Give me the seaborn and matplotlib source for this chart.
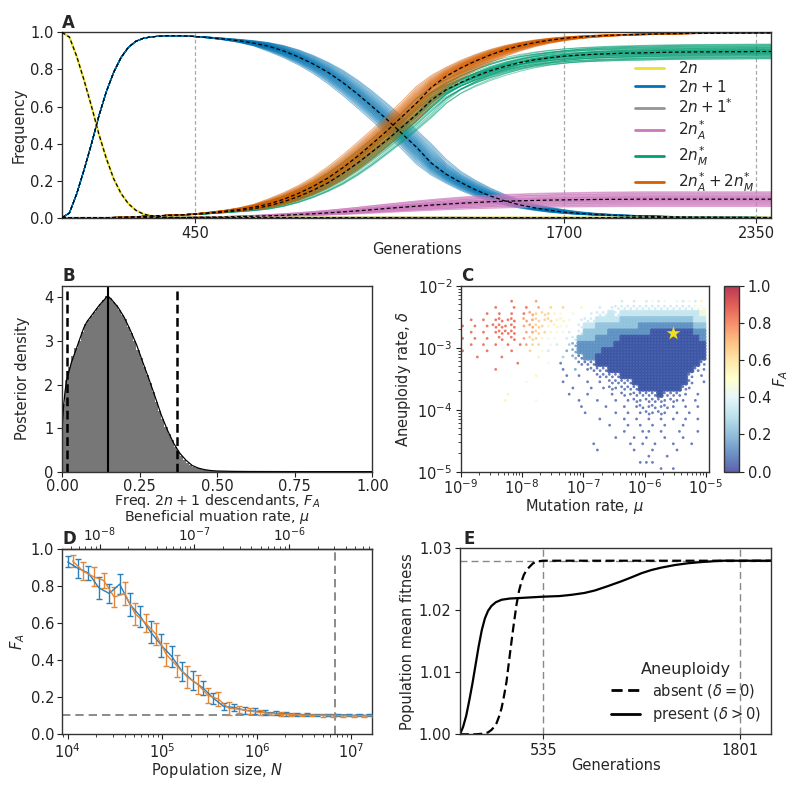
import numpy as np
import pandas as pd
import matplotlib
matplotlib.use("Agg")
import matplotlib.pyplot as plt
import seaborn as sns
from matplotlib.lines import Line2D
from matplotlib.colors import ListedColormap, Normalize
from matplotlib.cm import ScalarMappable

# ---------------- Panel A data ----------------
gens = [0, 25, 50, 75, 100, 125, 150, 175, 200, 225, 250, 275, 300,
        350, 400, 450, 500, 550, 600, 650, 700, 750, 800, 850, 900, 950, 1000,
        1050, 1100, 1150, 1200, 1250, 1300, 1350, 1400, 1450, 1500, 1550, 1600,
        1650, 1700, 1750, 1800, 1850, 1900, 1950, 2000, 2050, 2100, 2150, 2200,
        2250, 2300, 2350, 2400]
freq_2n = [1.0, 0.975, 0.87, 0.74, 0.6, 0.45, 0.32, 0.21, 0.13, 0.075, 0.04, 0.02, 0.01,
           0.003, 0.001, 0, 0, 0, 0, 0, 0, 0, 0, 0, 0, 0, 0, 0, 0, 0, 0, 0, 0, 0, 0,
           0, 0, 0, 0, 0, 0, 0, 0, 0, 0, 0, 0, 0, 0, 0, 0, 0, 0, 0, 0]
freq_2n1 = [0.0, 0.025, 0.13, 0.26, 0.4, 0.55, 0.68, 0.785, 0.865, 0.92, 0.952, 0.968, 0.976,
            0.982, 0.982, 0.978, 0.972, 0.964, 0.955, 0.942, 0.925, 0.9, 0.868, 0.83, 0.785,
            0.73, 0.668, 0.6, 0.53, 0.455, 0.38, 0.295, 0.235, 0.19, 0.15, 0.117, 0.09,
            0.069, 0.053, 0.04, 0.03, 0.023, 0.018, 0.014, 0.011, 0.009, 0.007, 0.005,
            0.004, 0.003, 0.003, 0.002, 0.002, 0.001, 0.001]
freq_2n1s = [0, 0, 0, 0, 0, 0, 0, 0.001, 0.001, 0.001, 0.002, 0.002, 0.002, 0.002, 0.002,
             0.002, 0.002, 0.002, 0.002, 0.002, 0.002, 0.002, 0.001, 0.001, 0.001, 0.001,
             0.001, 0.001, 0.001, 0.001, 0.001, 0.001, 0.001, 0.001, 0, 0, 0, 0, 0, 0, 0,
             0, 0, 0, 0, 0, 0, 0, 0, 0, 0, 0, 0, 0, 0]
freq_2nA = [0, 0, 0, 0, 0, 0, 0, 0, 0, 0, 0, 0, 0, 0, 0, 0.002, 0.003, 0.004, 0.006, 0.008,
            0.01, 0.013, 0.017, 0.021, 0.026, 0.031, 0.037, 0.043, 0.05, 0.056, 0.062,
            0.068, 0.073, 0.078, 0.082, 0.086, 0.089, 0.091, 0.093, 0.095, 0.096, 0.097,
            0.098, 0.099, 0.099, 0.1, 0.1, 0.1, 0.1, 0.1, 0.1, 0.1, 0.1, 0.1, 0.1]
freq_2nM = [0, 0, 0, 0, 0, 0, 0, 0.001, 0.002, 0.003, 0.005, 0.007, 0.009, 0.012, 0.015,
            0.018, 0.024, 0.031, 0.038, 0.049, 0.064, 0.086, 0.114, 0.148, 0.188, 0.238,
            0.294, 0.356, 0.419, 0.488, 0.557, 0.635, 0.69, 0.73, 0.764, 0.793, 0.817,
            0.837, 0.852, 0.863, 0.872, 0.878, 0.882, 0.885, 0.888, 0.889, 0.891, 0.893,
            0.894, 0.895, 0.895, 0.896, 0.896, 0.897, 0.897]
freq_2nAM = [0, 0, 0, 0, 0, 0, 0, 0.001, 0.002, 0.003, 0.005, 0.007, 0.009, 0.012, 0.015,
             0.02, 0.027, 0.035, 0.044, 0.057, 0.074, 0.099, 0.131, 0.169, 0.214, 0.269,
             0.331, 0.399, 0.469, 0.544, 0.619, 0.703, 0.763, 0.808, 0.846, 0.879, 0.906,
             0.928, 0.945, 0.958, 0.968, 0.975, 0.98, 0.984, 0.987, 0.989, 0.991, 0.993,
             0.994, 0.995, 0.995, 0.996, 0.996, 0.997, 0.997]
rep_shift = [-55, -48, -43, -39, -35, -32, -29, -26, -24, -21, -19, -17, -14, -12, -10, -8,
             -6, -4, -2, 0, 2, 3, 5, 7, 9, 12, 14, 16, 19, 21, 24, 27, 30, 33, 37, 41, 45,
             50, 56, 62]
rep_pink_scale = [1.25, 0.8, 1.1, 0.65, 1.35, 0.9, 1.05, 0.75, 1.2, 0.95, 1.4, 0.7, 1.0, 1.15,
                  0.85, 1.3, 0.6, 1.1, 0.9, 1.0, 1.22, 0.78, 1.05, 0.92, 1.38, 0.68, 1.12,
                  0.88, 1.02, 1.28, 0.72, 0.97, 1.18, 0.83, 1.08, 0.62, 1.32, 0.93, 1.15, 0.8]
a_ticks = [450, 1700, 2350]
class_labels = ["$2n$", "$2n+1$", "$2n+1^{*}$", "$2n_A^{*}$", "$2n_M^{*}$", "$2n_A^{*}+2n_M^{*}$"]
class_colors = ["#ece133", "#0173b2", "#949494", "#cc78bc", "#029e73", "#d55e00"]

# ---------------- Panel B data ----------------
hist_heights = [1.55, 2.1, 2.4, 2.65, 2.85, 3.0, 3.2, 3.38, 3.48, 3.58, 3.66, 3.75, 3.85, 3.94,
                4.03, 3.98, 3.9, 3.82, 3.72, 3.6, 3.5, 3.33, 3.18, 3.0, 2.8, 2.6, 2.4, 2.22,
                2.04, 1.82, 1.6, 1.4, 1.2, 1.03, 0.87, 0.72, 0.57, 0.46, 0.36, 0.27, 0.21,
                0.15, 0.11, 0.08, 0.06, 0.04, 0.03, 0.02, 0.015, 0.01, 0.008, 0.007, 0.006,
                0.005, 0.005, 0.004, 0.004, 0.003, 0.003, 0.003] + [0.002] * 40
kde_x = [0, 0.005, 0.01, 0.015, 0.03, 0.05, 0.07, 0.08, 0.1, 0.12, 0.14, 0.147, 0.16, 0.18,
         0.2, 0.22, 0.24, 0.26, 0.28, 0.3, 0.32, 0.34, 0.36, 0.38, 0.4, 0.42, 0.44, 0.46,
         0.48, 0.5, 0.55, 0.6, 0.7, 0.8, 1.0]
kde_y = [0.95, 1.5, 1.85, 2.1, 2.5, 2.9, 3.3, 3.44, 3.63, 3.82, 3.98, 4.04, 3.95, 3.78, 3.55,
         3.25, 2.92, 2.52, 2.13, 1.72, 1.3, 0.95, 0.65, 0.42, 0.26, 0.14, 0.08, 0.045,
         0.025, 0.015, 0.007, 0.004, 0.002, 0.001, 0.001]
fa_mode = 0.147
fa_ci = [0.015, 0.37]

# ---------------- Panel C data ----------------
# ASCII density map: 40 columns (log10 mu -9..-5, step 0.1), 30 rows (log10 delta -2..-5)
# digit = dense cell, upper case = medium, lower case = sparse; letter/digit -> F_A level
fa_map = [
    ".........." ".........." ".........." "..........",
    ".........." ".........." ".........." "..........",
    "........i." "..h......." "......d.d." "dede.ededf",
    ".....i..i." "i.h.g.g..f" "..d.dDDDDD" "DDDDDDDDEE",
    "....i.i.i." "iHgGgfe.e." ".dDD3D3333" "3333333334",
    ".i.i.iIiI." "HhGgGfFe.d" "DD33332222" "2222222233",
    "i.i.iIIiI." "hHGgfFee.D" "3322222221" "1111111122",
    ".i.i.iIII." "hhGgfeed.D" "2222111111" "1000000011",
    "i.i.i.I.I." "hGgfee.dD2" "2211110000" "0000000001",
    ".i.i.i.i.i" "hgg.ed.cB1" "1111100000" "0000000000",
    "i...i...i." ".g.ed..bB1" "1110000000" "0000000000",
    "..i...i..." "..f...c.BA" "1100000000" "0000000000",
    ".........i" "....e.a..A" "AA00000000" "000000000A",
    ".....i...." "......a.b." "aAAA000000" "00000000Aa",
    ".........." "..f....a.a" "..AAAA0000" "0000000A.a",
    ".........." "e.....a..." "a.a.AAAA00" "0000000A.a",
    ".........." "........a." ".a.aAaAAA0" "000000Aa..",
    ".......f.." ".......a.." "a...a.AaAA" "AA0AAAa.a.",
    ".......f.." "..e......a" "..a..a.aAa" "AAAaAaa.a.",
    ".........." ".........a" "...a..a.aA" "aAaAa.a.a.",
    ".........." ".........." "a....a.a.a" "AaAa.a.a..",
    ".........." ".........." "..a...a.a." "a.a.a.a.a.",
    ".........." ".........." "....a..a.a" ".a.a..a...",
    ".........." ".........." "......a..a" "a.a..a..a.",
    ".........." ".........." ".....a..a." "a..a..a...",
    ".........." ".........." ".a.....a.a" ".a..a..a..",
    ".........." ".........." "..a.....a." ".a...a....",
    ".........." ".........." ".........." "a..a......",
    ".........." ".........." ".........a" "aa........",
    ".........." ".........." ".........." "..a.a.....",
]
star_mu = [2.9e-6]
star_delta = [1.7e-3]

# ---------------- Panel D data ----------------
pop_N = [1.0e4, 1.29e4, 1.66e4, 2.14e4, 2.75e4, 3.55e4, 4.57e4, 5.89e4, 7.59e4, 9.77e4,
         1.26e5, 1.62e5, 2.09e5, 2.69e5, 3.47e5, 4.47e5, 5.75e5, 7.41e5, 9.55e5, 1.23e6,
         1.58e6, 2.04e6, 2.63e6, 3.39e6, 4.37e6, 5.62e6, 7.24e6, 9.33e6, 1.20e7, 1.55e7]
fa_N = [0.93, 0.895, 0.87, 0.79, 0.76, 0.81, 0.70, 0.635, 0.55, 0.48, 0.42, 0.34, 0.29, 0.25,
        0.195, 0.15, 0.145, 0.13, 0.125, 0.118, 0.113, 0.11, 0.107, 0.105, 0.104, 0.103,
        0.103, 0.102, 0.102, 0.102]
err_N = [0.03, 0.05, 0.04, 0.06, 0.05, 0.055, 0.06, 0.055, 0.06, 0.063, 0.055, 0.05, 0.05,
         0.04, 0.03, 0.02, 0.018, 0.018, 0.015, 0.012, 0.01, 0.01, 0.008, 0.008, 0.007,
         0.007, 0.006, 0.006, 0.006, 0.006]
mut_mu = [5.16e-9, 6.65e-9, 8.57e-9, 1.10e-8, 1.42e-8, 1.83e-8, 2.36e-8, 3.04e-8, 3.92e-8,
          5.05e-8, 6.5e-8, 8.38e-8, 1.08e-7, 1.39e-7, 1.79e-7, 2.31e-7, 2.98e-7, 3.84e-7,
          4.94e-7, 6.37e-7, 8.21e-7, 1.06e-6, 1.36e-6, 1.76e-6, 2.26e-6, 2.92e-6, 3.76e-6,
          4.84e-6, 6.24e-6, 8.04e-6]
fa_mu = [0.935, 0.88, 0.85, 0.83, 0.74, 0.76, 0.65, 0.60, 0.54, 0.43, 0.37, 0.31, 0.27, 0.21,
         0.19, 0.14, 0.135, 0.125, 0.118, 0.112, 0.108, 0.106, 0.104, 0.103, 0.102, 0.101,
         0.1, 0.1, 0.1, 0.1]
err_mu = [0.035, 0.05, 0.05, 0.04, 0.055, 0.06, 0.06, 0.05, 0.06, 0.06, 0.06, 0.06, 0.05,
          0.04, 0.04, 0.035, 0.02, 0.015, 0.012, 0.01, 0.01, 0.008, 0.008, 0.007, 0.007,
          0.006, 0.006, 0.006, 0.006, 0.006]
mu_ticks = [1e-8, 1e-7, 1e-6]
N_PER_MU = 2.19e12
d_hline = 0.105
d_vline = 6.64e6

# ---------------- Panel E data ----------------
e_gen_present = [0, 20, 40, 60, 80, 100, 120, 140, 160, 180, 202, 230, 267, 320, 395, 535,
                 640, 717, 800, 867, 950, 1039, 1100, 1168, 1230, 1296, 1380, 1468, 1560,
                 1683, 1850, 2000]
e_fit_present = [1.0, 1.0012, 1.003, 1.0055, 1.0082, 1.0112, 1.0142, 1.0168, 1.0187, 1.0199,
                 1.0207, 1.0213, 1.0217, 1.0219, 1.022, 1.0222, 1.0223, 1.0225, 1.0228,
                 1.0232, 1.0239, 1.0247, 1.0253, 1.026, 1.0265, 1.0269, 1.0273, 1.0276,
                 1.0278, 1.028, 1.028, 1.028]
e_gen_absent = [0, 100, 150, 180, 202, 220, 235, 250, 267, 283, 299, 320, 342, 363, 380, 395,
                410, 428, 450, 470, 500, 535, 1000, 2000]
e_fit_absent = [1.0, 1.0, 1.0001, 1.0003, 1.0007, 1.0012, 1.0018, 1.0028, 1.0042, 1.0062,
                1.0085, 1.0128, 1.0171, 1.0209, 1.0232, 1.0246, 1.0257, 1.0265, 1.0271,
                1.0276, 1.0279, 1.028, 1.028, 1.028]
e_ticks = [535, 1801]
e_hline = 1.028

# ---------------- Style ----------------
sns.set_style("ticks")
plt.rcParams["font.family"] = ["DejaVu Sans"]
plt.rcParams.update({
    "font.size": 10, "axes.labelsize": 10.5, "xtick.labelsize": 10.5, "ytick.labelsize": 10.5,
    "axes.edgecolor": "#333333", "axes.linewidth": 1.0, "mathtext.fontset": "dejavusans",
    "xtick.major.size": 3.5, "ytick.major.size": 3.5, "xtick.minor.size": 2,
    "ytick.minor.size": 2, "xtick.color": "#222222", "ytick.color": "#222222",
    "xtick.major.pad": 2.5, "ytick.major.pad": 2.5, "axes.labelpad": 2.5,
})

fig = plt.figure(figsize=(8, 7.91), dpi=100)
axA = fig.add_axes([0.0775, 0.7248, 0.8863, 0.2342])
axB = fig.add_axes([0.0775, 0.4037, 0.3879, 0.2351])
axC = fig.add_axes([0.576, 0.4037, 0.310, 0.2351])
cax = fig.add_axes([0.9054, 0.4037, 0.0188, 0.2351])
axD = fig.add_axes([0.078, 0.0717, 0.387, 0.2343])
axE = fig.add_axes([0.575, 0.0717, 0.389, 0.2351])


def panel_label(ax, s, dx=0.0):
    ax.text(dx, 1.004, s, transform=ax.transAxes, fontsize=12, fontweight="bold",
            va="bottom", ha="left")


# ---------------- Panel A ----------------
t = np.array(gens, float)
ramp = np.clip((t - 400.0) / 300.0, 0, 1)
recs = []
for r, (d, k) in enumerate(zip(rep_shift, rep_pink_scale)):
    ts = t - d * ramp
    b = np.interp(ts, t, freq_2n1)
    o = np.interp(ts, t, freq_2nAM)
    p = np.interp(ts, t, freq_2nA) * k
    g = o - p
    for cls, vals in (("2nA", p), ("2nM", g), ("2nAM", o), ("2n1", b)):
        recs.append(pd.DataFrame({"gen": t, "freq": vals, "cls": cls, "rep": r}))
dfA = pd.concat(recs, ignore_index=True)
palA = {"2n1": class_colors[1], "2nA": class_colors[3], "2nM": class_colors[4],
        "2nAM": class_colors[5]}
for x in a_ticks:
    axA.axvline(x, color="#a8a8a8", lw=0.9, ls=(0, (3, 2)), zorder=0)
sns.lineplot(data=dfA, x="gen", y="freq", hue="cls", units="rep", estimator=None,
             palette=palA, hue_order=["2n1", "2nA", "2nM", "2nAM"], lw=0.7, alpha=0.5,
             legend=False, sort=False, ax=axA)
sns.lineplot(x=gens, y=freq_2n, color=class_colors[0], lw=1.6, ax=axA)
sns.lineplot(x=gens, y=freq_2n1s, color=class_colors[2], lw=1.2, ax=axA)
for series in (freq_2n, freq_2n1, freq_2nA, freq_2nM, freq_2nAM):
    axA.plot(gens, series, color="black", lw=0.9, ls=(0, (3, 2)), zorder=5)
axA.set_xlim(0, 2400)
axA.set_ylim(0, 1.0)
axA.set_xticks(a_ticks)
axA.set_yticks([0, 0.2, 0.4, 0.6, 0.8, 1.0])
axA.set_xlabel("Generations", labelpad=1)
axA.set_ylabel("Frequency")
handles = [Line2D([0], [0], color=c, lw=2) for c in class_colors]
axA.legend(handles, class_labels, loc="center right", frameon=False, fontsize=11,
           handlelength=1.9, handletextpad=0.9, labelspacing=0.18, borderaxespad=0.7,
           bbox_to_anchor=(1.0, 0.49))
panel_label(axA, "A")

# ---------------- Panel B ----------------
edges = np.linspace(0, 1, 101)
centers = (edges[:-1] + edges[1:]) / 2
dfB = pd.DataFrame({"fa": centers, "w": hist_heights})
sns.histplot(data=dfB, x="fa", weights="w", binwidth=0.01, binrange=(0, 1),
             color="#777777", alpha=1.0, linewidth=0, ax=axB)
sns.lineplot(x=kde_x, y=kde_y, color="black", lw=0.9, ax=axB)
axB.axvline(fa_mode, color="black", lw=1.5)
for v in fa_ci:
    axB.axvline(v, color="black", lw=1.8, ls=(0, (3.5, 1.8)))
axB.set_xlim(0, 1)
axB.set_ylim(0, 4.27)
axB.set_xticks([0, 0.25, 0.5, 0.75, 1.0])
axB.set_xticklabels(["0.00", "0.25", "0.50", "0.75", "1.00"])
axB.set_yticks([0, 1, 2, 3, 4])
axB.tick_params(axis="x", pad=1.5)
axB.set_xlabel("Freq. $2n+1$ descendants, $F_A$", labelpad=-1, fontsize=10.3)
axB.set_ylabel("Posterior density", labelpad=10)
panel_label(axB, "B")

# ---------------- Panel C ----------------
dense_x, dense_y, dense_f = [], [], []
sparse_x, sparse_y, sparse_f = [], [], []
for j, row in enumerate(fa_map):
    row = row.ljust(40, ".")[:40]
    for i, ch in enumerate(row):
        if ch == ".":
            continue
        lm = -9 + 0.1 * i + 0.05
        ld = -2 - 0.1 * j - 0.05
        if ch.isdigit():
            f = int(ch) / 10 + 0.05
            offs = [(-0.025, -0.025), (0.025, -0.025), (-0.025, 0.025), (0.025, 0.025)]
            tx, ty, tf = dense_x, dense_y, dense_f
        elif ch.isupper():
            f = (ord(ch) - 65) / 10 + 0.05
            offs = [(-0.025, 0.02), (0.025, -0.02)]
            tx, ty, tf = sparse_x, sparse_y, sparse_f
        else:
            f = (ord(ch) - 97) / 10 + 0.05
            offs = [(0.02 if j % 2 else -0.02, 0.0)]
            tx, ty, tf = sparse_x, sparse_y, sparse_f
        for dx, dy in offs:
            tx.append(10 ** (lm + dx))
            ty.append(10 ** (ld + dy))
            tf.append(f)
sns.scatterplot(x=sparse_x, y=sparse_y, hue=sparse_f, palette="RdYlBu_r", hue_norm=(0, 1),
                s=4, linewidth=0, alpha=0.75, legend=False, ax=axC)
sns.scatterplot(x=dense_x, y=dense_y, hue=dense_f, palette="RdYlBu_r", hue_norm=(0, 1),
                s=11, linewidth=0, alpha=0.9, legend=False, ax=axC)
sns.scatterplot(x=star_mu, y=star_delta, marker="*", s=110, color="#f5df1a", linewidth=0,
                legend=False, ax=axC, zorder=5)
axC.set_xscale("log")
axC.set_yscale("log")
axC.set_xlim(1e-9, 1.12e-5)
axC.set_ylim(1e-5, 1e-2)
axC.tick_params(axis="x", pad=1.5)
axC.set_xlabel("Mutation rate, $\\mu$", labelpad=0)
axC.set_ylabel("Aneuploidy rate, $\\delta$", labelpad=3)
panel_label(axC, "C")
base = plt.get_cmap("RdYlBu_r")(np.linspace(0, 1, 256))
muted = base.copy()
muted[:, :3] = 0.78 * base[:, :3] + 0.22
sm = ScalarMappable(norm=Normalize(0, 1), cmap=ListedColormap(muted))
cb = fig.colorbar(sm, cax=cax)
cb.set_ticks([0, 0.2, 0.4, 0.6, 0.8, 1.0])
cb.set_ticklabels(["0.0", "0.2", "0.4", "0.6", "0.8", "1.0"])
cb.set_label("$F_A$", fontsize=10.5, labelpad=0)
cb.outline.set_edgecolor("#333333")

# ---------------- Panel D ----------------
blue_d, orange_d = "#2c7fb8", "#e0873a"
axD.axhline(d_hline, color="#777777", lw=1.2, ls=(0, (5, 3)), zorder=1)
axD.axvline(d_vline, color="#777777", lw=1.2, ls=(0, (5, 3)), zorder=1)
axD.errorbar(pop_N, fa_N, yerr=err_N, color=blue_d, lw=1.0, capsize=2.5, elinewidth=1.0,
             capthick=1.0, zorder=3)
mu_as_N = [m * N_PER_MU for m in mut_mu]
axD.errorbar(mu_as_N, fa_mu, yerr=err_mu, color=orange_d, lw=1.0, capsize=2.5,
             elinewidth=1.0, capthick=1.0, zorder=3)
axD.set_xscale("log")
axD.set_xlim(8.8e3, 1.65e7)
axD.set_ylim(0, 1.0)
axD.set_yticks([0, 0.2, 0.4, 0.6, 0.8, 1.0])
axD.set_xlabel("Population size, $N$", labelpad=0)
axD.set_ylabel("$F_A$")
secD = axD.secondary_xaxis("top", functions=(lambda n: n / N_PER_MU, lambda m: m * N_PER_MU))
secD.set_xticks(mu_ticks)
secD.set_xlabel("Beneficial muation rate, $\\mu$", labelpad=3, fontsize=10.3)
secD.tick_params(axis="x", labelsize=9.8, pad=0)
panel_label(axD, "D")

# ---------------- Panel E ----------------
for x in e_ticks:
    axE.axvline(x, color="#888888", lw=1.0, ls=(0, (5, 3)), zorder=0)
axE.axhline(e_hline, color="#888888", lw=1.0, ls=(0, (5, 3)), zorder=0)
sns.lineplot(x=e_gen_absent, y=e_fit_absent, color="black", lw=1.6, ax=axE,
             linestyle=(0, (4, 2)))
sns.lineplot(x=e_gen_present, y=e_fit_present, color="black", lw=1.6, ax=axE)
axE.set_xlim(0, 2000)
axE.set_ylim(1.0, 1.03)
axE.set_xticks(e_ticks)
axE.set_yticks([1.0, 1.01, 1.02, 1.03])
axE.set_yticklabels(["1.00", "1.01", "1.02", "1.03"])
axE.set_xlabel("Generations", labelpad=0)
axE.set_ylabel("Population mean fitness")
hE = [Line2D([0], [0], color="black", lw=2, ls=(0, (4, 2))),
      Line2D([0], [0], color="black", lw=2)]
axE.legend(hE, ["absent ($\\delta=0$)", "present ($\\delta>0$)"], title="Aneuploidy",
           loc="lower right", frameon=False, fontsize=10.5, title_fontsize=11.5,
           handlelength=2.0, borderaxespad=0.3, labelspacing=0.35)
panel_label(axE, "E", dx=0.01)

for ax in (axA, axB, axC, axD, axE):
    for sp in ax.spines.values():
        sp.set_visible(True)
        sp.set_color("#333333")

fig.savefig("out.png", dpi=100)
